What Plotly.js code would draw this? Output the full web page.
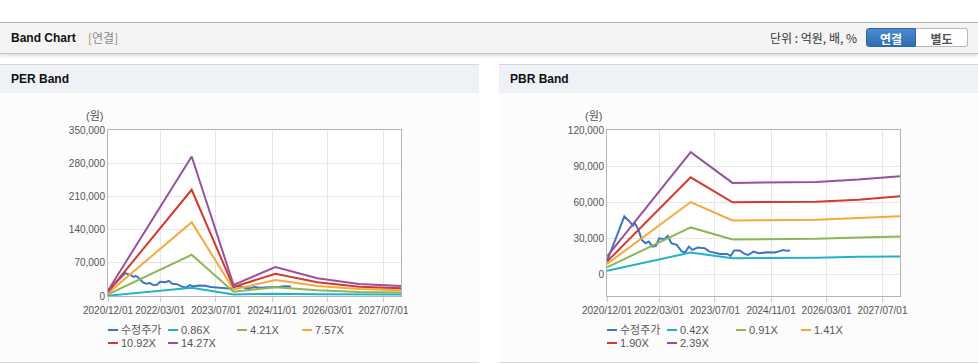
<!DOCTYPE html>
<html><head><meta charset="utf-8">
<script src="https://cdn.plot.ly/plotly-3.0.1.min.js"></script>
<style>
html,body{margin:0;padding:0;background:#fff;}
body{width:978px;height:364px;overflow:hidden;position:relative;font-family:"Liberation Sans","Noto Sans CJK KR",sans-serif;}
.topbar{position:absolute;left:0;top:22px;width:978px;height:30px;background:#f4f4f4;border-top:1px solid #b3b3b3;border-bottom:1px solid #c4c4c4;box-shadow:0 2px 3px rgba(0,0,0,0.13);}
.ttl{position:absolute;left:11px;top:0;line-height:30px;font-size:12px;font-weight:bold;color:#111;}
.sub{position:absolute;left:88px;top:0;line-height:30px;font-size:12px;color:#8a8a8a;font-family:"Noto Sans CJK KR",sans-serif;}
.sub b{font-weight:normal;color:#b08a60;}
.unit{position:absolute;left:770px;top:0;line-height:30px;font-size:12px;color:#333;font-family:"Noto Sans CJK KR",sans-serif;}
.btn{position:absolute;top:5px;height:19px;line-height:19px;width:50px;text-align:center;font-size:12px;font-weight:bold;font-family:"Noto Sans CJK KR",sans-serif;box-sizing:border-box;}
.b1{left:866px;background:linear-gradient(#4a8ad0,#2f6db3);color:#fff;border:1px solid #2c66a6;border-radius:3px 0 0 3px;}
.b2{left:916px;width:52px;background:#fff;color:#555;border:1px solid #b9b9b9;border-left:none;border-radius:0 3px 3px 0;}
.panel{position:absolute;top:64px;height:297px;width:479px;background:#fcfcfc;border-top:1px solid #d6d6d6;border-bottom:1px solid #dcdcdc;}
.phead{position:absolute;left:0;top:0;width:100%;height:28px;background:#eef2f7;}
.phead span{position:absolute;left:11px;line-height:29px;font-size:12px;font-weight:bold;color:#111;}
.plot{position:absolute;left:0;top:28px;width:479px;height:268px;}
</style></head>
<body>
<div class="topbar">
  <div class="ttl">Band Chart</div>
  <div class="sub"><b>[</b>연결<b>]</b></div>
  <div class="unit">단위 : 억원, 배, %</div>
  <div class="btn b1">연결</div>
  <div class="btn b2">별도</div>
</div>
<div class="panel" style="left:0;"><div class="phead"><span>PER Band</span></div><div id="per" class="plot"></div></div>
<div class="panel" style="left:499px;"><div class="phead"><span>PBR Band</span></div><div id="pbr" class="plot"></div></div>
<script>
// ---- data ----
const tickDates = ['2020-12-01','2022-03-01','2023-07-01','2024-11-01','2026-03-01','2027-07-01'];
const tickLabels = ['2020/12/01','2022/03/01','2023/07/01','2024/11/01','2026/03/01','2027/07/01'];
const bandDates = ['2020-12-01','2022-12-01','2023-12-01','2024-12-01','2025-12-01','2026-12-01','2027-12-01'];

const priceDates = ['2020-12-01','2021-05-01','2021-06-15','2021-07-15','2021-08-01','2021-09-01','2021-10-01','2021-11-01','2021-12-01','2022-01-01','2022-02-01','2022-03-01','2022-04-15','2022-05-15','2022-06-15','2022-08-01','2022-09-15','2022-10-15','2022-11-15','2022-12-15','2023-02-01','2023-04-01','2023-05-15','2023-07-01','2023-08-15','2023-10-15','2023-11-15','2023-12-15','2024-02-01','2024-03-15','2024-04-15','2024-06-01','2024-07-15','2024-10-01','2024-12-01','2025-01-01','2025-02-15','2025-03-15','2025-04-15'];
const priceVals = [11000,48200,44000,40500,42600,37000,28700,25900,27300,23100,23600,30000,29200,32000,25900,24500,18900,18400,23100,20300,22300,21700,18900,18000,17000,17000,15300,19800,19800,17000,16100,18900,17500,18400,18100,18900,20300,19600,19800];

const perNames = ['수정주가','0.86X','4.21X','7.57X','10.92X','14.27X'];
const per086  = [700, 17500, 3000, 5000, 3500, 3000, 3000];
const per421  = [3400, 86900, 9000, 18500, 12000, 8500, 7500];
const per757  = [6000, 155500, 14000, 33500, 21000, 14500, 12000];
const per1092 = [8700, 224000, 19000, 47000, 29000, 19500, 16500];
const per1427 = [11500, 294000, 23500, 61000, 37500, 25500, 21000];

const pbrNames = ['수정주가','0.42X','0.91X','1.41X','1.90X','2.39X'];
const pbr042 = [3060, 18100, 13400, 13600, 13900, 14700, 14750];
const pbr091 = [5850, 39000, 29000, 29200, 29500, 30600, 31500];
const pbr141 = [8600, 60100, 44800, 44800, 45400, 46800, 48200];
const pbr190 = [10600, 80700, 59900, 60100, 60400, 62100, 64900];
const pbr239 = [14750, 101600, 76000, 76560, 76800, 78800, 81600];

const colors = ['#3a76c4','#22b2c8','#8db654','#f5a93a','#d4382f','#99509d'];

// ---- drawing ----
function build(divId, names, bands, yRange, dtick){
  const traces = [{x: priceDates, y: priceVals, name: names[0], type:'scatter', mode:'lines',
                   line:{color: colors[0], width:2}}];
  bands.forEach((b,i)=>traces.push({x: bandDates, y: b, name: names[i+1], type:'scatter', mode:'lines',
                   line:{color: colors[i+1], width:2}}));
  const W = 293, H = 166;
  const cols = [0, 60, 129, 194];
  const rows = [-34, -47];
  const shapes = [], anns = [];
  names.forEach((n,i)=>{
    const c = cols[i%4], r = rows[Math.floor(i/4)];
    shapes.push({type:'line', xref:'paper', yref:'paper', x0: c/W, x1:(c+10)/W, y0: r/H, y1: r/H,
                 line:{color: colors[i], width:2}});
    anns.push({xref:'paper', yref:'paper', x:(c+11)/W, y:r/H, xanchor:'left', yanchor:'middle',
               text:n, showarrow:false, font:{size:11, color:'#555'}});
  });
  anns.push({xref:'paper', yref:'paper', x:-14/W, y:1+14/H, xanchor:'center', yanchor:'middle',
             text:'(원)', showarrow:false, font:{size:11, color:'#555'}});
  const layout = {
    width:479, height:268,
    margin:{l:108, r:78, t:37, b:65},
    paper_bgcolor:'#fcfcfc', plot_bgcolor:'#ffffff',
    font:{family:'"Liberation Sans","Noto Sans CJK KR",sans-serif', size:10, color:'#555'},
    showlegend:false,
    xaxis:{type:'date', range:['2020-12-01','2027-12-01'], tickvals: tickDates, ticktext: tickLabels,
           tickangle:0, showgrid:true, gridcolor:'#e6e6e6', showline:true, linecolor:'#b4b4b4', mirror:true,
           ticks:'outside', ticklen:5, tickcolor:'#cccccc', zeroline:false, tickfont:{size:10,color:'#555'}},
    yaxis:{range:yRange, dtick:dtick, tick0:0, tickformat:',d', showgrid:true, gridcolor:'#e6e6e6',
           showline:true, linecolor:'#b4b4b4', mirror:true, zeroline:false, ticks:'', tickfont:{size:10,color:'#555'}},
    shapes: shapes, annotations: anns
  };
  Plotly.newPlot(divId, traces, layout, {staticPlot:true, displayModeBar:false});
}
build('per', perNames, [per086, per421, per757, per1092, per1427], [0, 350000], 70000);
build('pbr', pbrNames, [pbr042, pbr091, pbr141, pbr190, pbr239], [-18000, 120000], 30000);
</script>
</body></html>
